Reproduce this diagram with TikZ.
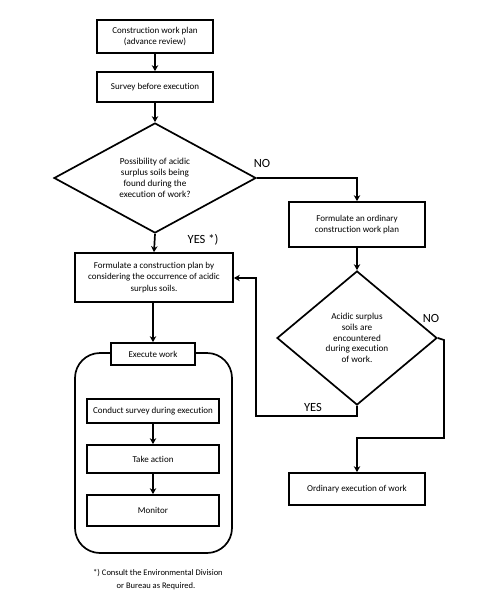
\documentclass[tikz,border=0pt]{standalone}
\usepackage{fontspec}
\setmainfont[Ligatures=NoCommon]{Carlito}
\usetikzlibrary{shapes.geometric,arrows.meta}
\begin{document}
\begin{tikzpicture}[x=1pt,y=-1pt,
  box/.style={draw,line width=1.7pt,align=center,fill=white,font=\fontsize{9}{11.5}\selectfont,inner sep=2pt},
  dia/.style={draw,diamond,line width=1.7pt,align=center,font=\fontsize{9.2}{10.8}\selectfont,inner sep=0pt},
  arr/.style={line width=1.7pt,-{Stealth[length=6pt,width=6.5pt]}},
  lab/.style={font=\fontsize{12.5}{14}\selectfont,inner sep=0pt},
  foot/.style={font=\fontsize{8.5}{11}\selectfont,inner sep=0pt,align=center}]
\useasboundingbox (0,0) rectangle (496,608);
% left column
\node[box,minimum width=116pt,minimum height=33pt] (b1) at (155,36.5) {Construction work plan\\(advance review)};
\node[box,minimum width=116pt,minimum height=30pt] (b2) at (155,87) {Survey before execution};
\node[dia,shape aspect=1.84,minimum width=202pt,minimum height=110pt] (d1) at (155,178) {Possibility of acidic\\surplus soils being\\found during the\\execution of work?};
\node[box,minimum width=158pt,minimum height=49pt] (b3) at (154,277.5) {Formulate a construction plan by\\considering the occurrence of acidic\\surplus soils.};
% container
\node[draw,line width=1.7pt,rounded corners=25pt,minimum width=157pt,minimum height=200pt] (cont) at (153.5,453) {};
\node[box,minimum width=84pt,minimum height=22pt] (ex) at (153,354) {Execute work};
\node[box,minimum width=132pt,minimum height=24pt] (c1) at (153,411) {Conduct survey during execution};
\node[box,minimum width=132pt,minimum height=28pt] (c2) at (153,459) {Take action};
\node[box,minimum width=132pt,minimum height=31pt] (c3) at (153,510.5) {Monitor};
\node[foot] (f1) at (158,573) {*) Consult the Environmental Division};
\node[foot] (f2) at (156,586) {or Bureau as Required.};
% right column
\node[box,minimum width=136pt,minimum height=45pt] (b4) at (357,224.5) {Formulate an ordinary\\construction work plan};
\node[dia,shape aspect=1.19,minimum width=160pt,minimum height=134pt] (d2) at (357,338) {Acidic surplus\\soils are\\encountered\\during execution\\of work.};
\node[box,minimum width=136pt,minimum height=32pt] (b5) at (357,489) {Ordinary execution of work};
% connector corners
\coordinate (n1) at (357,178);
\coordinate (n2a) at (444,340);
\coordinate (n2b) at (444,438);
\coordinate (n2c) at (357,438);
\coordinate (y2a) at (357,416);
\coordinate (y2b) at (256,416);
\coordinate (y2c) at (256,278);
% connectors
\draw[arr] (b1) -- (b2);
\draw[arr] (b2) -- (d1);
\draw[arr] (d1.south) -- (b3.north);
\draw[arr] (d1.east) -- (n1) -- (b4.north);
\draw[arr] (b4) -- (d2);
\draw[arr] (d2.east) -- (n2a) -- (n2b) -- (n2c) -- (b5.north);
\draw[arr] (d2.south) -- (y2a) -- (y2b) -- (y2c) -- (b3.east |- y2c);
\draw[arr] (b3.south -| ex.north) -- (ex.north);
\draw[arr] (c1) -- (c2);
\draw[arr] (c2) -- (c3);
% labels
\node[lab] (yes1) at (203,240) {YES *)};
\node[lab] (no1) at (262,163) {NO};
\node[lab] (no2) at (431,318) {NO};
\node[lab] (yes2) at (313,407) {YES};
\end{tikzpicture}
\end{document}
